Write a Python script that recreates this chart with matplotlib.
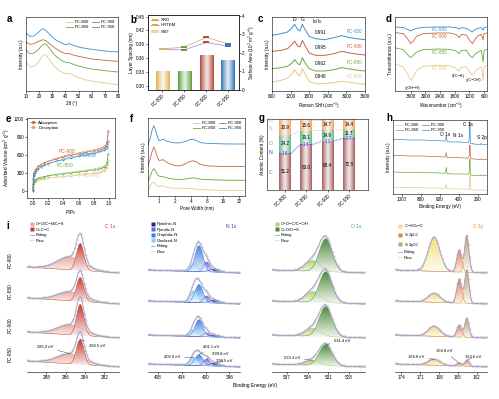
import numpy as np
import matplotlib
matplotlib.use("Agg")
import matplotlib.pyplot as plt
from matplotlib.colors import to_rgb
from matplotlib.lines import Line2D
from matplotlib.patches import Patch

W, H = 499, 399

SAMPLES = ["PC-800", "PC-850", "PC-900", "PC-950"]
COLS = ["#e6c88e", "#6aa93c", "#c8643c", "#3c8ecb"]
BAR_COLS = ["#e0b257", "#5d9f3d", "#b4473c", "#3573b6"]

# a - XRD
XRD_X = [10, 13, 16, 19, 21, 23, 25, 28, 32, 36, 40, 43, 46, 50, 55, 60, 70, 80]
XRD_800 = [87, 72, 74, 84, 97, 107, 109, 92, 72, 59, 52, 54, 47, 40, 34, 30, 24, 19]
XRD_850 = [124, 112, 114, 122, 132, 139, 142, 127, 107, 94, 86, 85, 80, 75, 70, 66, 61, 57]
XRD_900 = [147, 140, 142, 148, 151, 154, 151, 142, 129, 119, 112, 112, 108, 104, 100, 96, 92, 89]
XRD_950 = [174, 164, 165, 174, 182, 187, 182, 170, 155, 146, 139, 142, 137, 132, 128, 125, 120, 117]

# b - layer spacing / surface area
B_XRD = [0.380, 0.384, 0.405, 0.3915]
B_HRTEM = [0.379, 0.378, 0.394, 0.386]
B_SBET = [0.99, 1.00, 1.84, 1.61]

# c - Raman
RAMAN_X = [600, 900, 1100, 1250, 1330, 1430, 1500, 1580, 1650, 1800, 2000, 2300, 2600, 2850, 3100, 3400, 3600]
R_800 = [27, 32, 39, 52, 64, 50, 46, 67, 54, 29, 22, 22, 25, 29, 26, 22, 20]
R_850 = [67, 70, 74, 84, 94, 82, 79, 100, 87, 67, 60, 60, 64, 70, 66, 62, 60]
R_900 = [119, 122, 127, 140, 150, 135, 132, 152, 139, 114, 107, 107, 112, 119, 114, 110, 108]
R_950 = [167, 172, 177, 190, 200, 184, 180, 200, 187, 164, 157, 154, 160, 166, 160, 156, 154]
ID_IG = ["0.948", "0.962", "0.995", "0.991"]

# d - FTIR
FTIR_X = [4200, 3900, 3700, 3600, 3490, 3360, 3080, 2540, 2000, 1730, 1620, 1520, 1320, 1190, 1080, 980, 850, 710, 640, 600, 490]
F_800 = [80, 72, 47, 32, 42, 62, 74, 77, 76, 67, 60, 72, 72, 57, 47, 57, 67, 72, 32, 72, 77]
F_850 = [129, 124, 107, 100, 107, 117, 124, 126, 125, 120, 112, 122, 122, 107, 100, 110, 117, 122, 87, 122, 125]
F_900 = [175, 172, 154, 142, 150, 164, 172, 174, 174, 169, 160, 170, 168, 152, 142, 154, 166, 170, 154, 172, 174]
F_950 = [192, 190, 184, 180, 184, 188, 191, 192, 192, 190, 186, 190, 188, 182, 177, 184, 188, 190, 182, 190, 192]

# e - N2 isotherms
E_P_ADS = [0.0, 0.001, 0.003, 0.006, 0.01, 0.02, 0.04, 0.07, 0.1, 0.15, 0.2, 0.3, 0.4, 0.5, 0.6, 0.7, 0.8, 0.85, 0.9, 0.93, 0.95, 0.97, 0.98, 0.99]
E_ADS_800 = [5, 50, 100, 125, 140, 152, 165, 180, 190, 200, 210, 225, 238, 250, 262, 275, 290, 300, 315, 330, 345, 375, 410, 520]
E_ADS_850 = [5, 60, 120, 150, 165, 180, 195, 210, 220, 235, 250, 270, 285, 300, 315, 330, 350, 360, 375, 390, 405, 440, 480, 620]
E_ADS_900 = [10, 120, 220, 270, 300, 330, 370, 410, 435, 465, 490, 530, 565, 595, 620, 645, 670, 685, 705, 720, 740, 780, 820, 1000]
E_ADS_950 = [10, 110, 200, 245, 270, 295, 330, 370, 395, 425, 450, 490, 520, 550, 575, 600, 625, 640, 660, 675, 690, 720, 750, 830]
E_P_DES = [0.99, 0.98, 0.96, 0.94, 0.9, 0.85, 0.8, 0.7, 0.6, 0.5, 0.45, 0.4, 0.3, 0.2, 0.1, 0.05]
E_DES_800 = [520, 430, 380, 358, 330, 315, 303, 287, 272, 258, 250, 242, 228, 212, 192, 172]
E_DES_850 = [620, 500, 440, 415, 392, 375, 362, 342, 325, 310, 300, 292, 275, 255, 225, 205]
E_DES_900 = [1000, 840, 770, 745, 720, 700, 685, 660, 635, 610, 598, 580, 540, 495, 440, 400]
E_DES_950 = [830, 770, 720, 695, 675, 655, 640, 615, 590, 562, 548, 530, 495, 455, 400, 350]

# f - pore size distribution
PORE_X = [0.62, 0.68, 0.74, 0.8, 0.86, 0.93, 1.0, 1.1, 1.2, 1.4, 1.8, 2.2, 2.6, 3.2, 3.8, 4.3, 5.0, 6.0, 8.0, 12, 20, 32, 40]
P_800 = [18, 30, 38, 40, 35, 29, 28, 29, 30, 25, 23, 23, 23, 22, 21, 21, 20, 19, 18, 17, 16, 16, 16]
P_850 = [43, 56, 73, 80, 73, 62, 58, 57, 56, 53, 50, 48, 48, 50, 52, 53, 52, 49, 48, 47, 46, 46, 46]
P_900 = [88, 108, 130, 143, 130, 113, 104, 105, 106, 98, 91, 88, 89, 95, 101, 103, 100, 92, 88, 87, 86, 86, 86]
P_950 = [150, 168, 193, 206, 193, 173, 162, 164, 166, 160, 156, 155, 156, 160, 165, 166, 162, 156, 154, 153, 152, 152, 152]

# g - atomic content (%)
G_C = [51.2, 63.0, 68.4, 72.5]
G_N = [1.6, 1.4, 1.1, 0.7]
G_O = [24.2, 19.1, 14.9, 11.7]
G_S = [20.9, 15.6, 14.7, 14.4]

# h - XPS survey
SURV_X = [1100, 1000, 900, 800, 700, 600, 545, 536, 532, 528, 520, 450, 405, 400, 395, 350, 300, 292, 287, 284, 281, 276, 240, 200, 172, 166, 162, 130, 105]
S_950 = [164, 163, 162, 162, 161, 160, 159, 166, 174, 164, 157, 156, 156, 158, 156, 155, 154, 162, 192, 217, 182, 152, 150, 149, 149, 152, 149, 148, 148]
S_900 = [116, 115, 114, 114, 113, 112, 111, 116, 124, 115, 109, 109, 109, 110, 109, 108, 108, 114, 132, 147, 127, 106, 105, 104, 104, 106, 104, 104, 104]
S_850 = [66, 65, 65, 64, 64, 63, 62, 70, 79, 67, 61, 60, 60, 61, 60, 60, 59, 65, 82, 104, 77, 57, 56, 56, 56, 58, 56, 55, 55]
S_800 = [20, 20, 19, 19, 18, 18, 17, 22, 28, 20, 16, 15, 15, 16, 15, 15, 14, 19, 34, 57, 30, 13, 12, 12, 12, 13, 12, 11, 11]

# i - high resolution XPS, fitted components (centre eV, FWHM eV, height per sample)
I_BASE = [99, 68, 34, 5]
C1S_NAMES = ["C−O/C−N/C−S", "C=C−C"]
C1S_CENTERS = [285.5, 284.5]
C1S_FWHM = [3.2, 0.9]
C1S_HEIGHTS = [[13, 27], [9, 24], [10, 31], [10, 25]]
N1S_NAMES = ["Pyridinic-N", "Pyrrolic-N", "Graphitic-N", "Oxidized-N"]
N1S_CENTERS = [398.5, 399.8, 401.1, 402.0]
N1S_FWHM = [2.0, 1.3, 1.6, 1.5]
N1S_HEIGHTS = [[3, 10, 26, 8], [3, 7, 18, 12], [2, 4, 17, 7], [3, 7, 11, 8]]
O1S_NAMES = ["C−O−C/C−OH", "C=O/O−S"]
O1S_CENTERS = [533.3, 531.4]
O1S_FWHM = [2.6, 2.2]
O1S_HEIGHTS = [[11, 33], [11, 31], [8, 30], [5, 21]]
S2P_NAMES = ["C−SO$_x$−C", "S 2p$_{1/2}$", "S 2p$_{3/2}$"]
S2P_CENTERS = [168.8, 164.8, 163.6]
S2P_FWHM = [2.2, 0.9, 0.8]
S2P_HEIGHTS = [[34, 22, 37], [9, 24, 33], [10, 12, 19], [6, 3, 6]]

plt.rcParams.update({
    "font.family": ["Liberation Sans", "DejaVu Sans"],
    "font.size": 3.3,
    "mathtext.default": "regular",
    "axes.linewidth": 0.4,
    "xtick.major.size": 1.2, "ytick.major.size": 1.2,
    "xtick.major.width": 0.4, "ytick.major.width": 0.4,
    "xtick.major.pad": 1, "ytick.major.pad": 1,
    "axes.labelpad": 1.5,
    "lines.linewidth": 0.5,
    "legend.frameon": False,
    "legend.fontsize": 3.1,
    "legend.handlelength": 1.6,
    "legend.handletextpad": 0.4,
    "legend.labelspacing": 0.25,
    "legend.columnspacing": 0.8,
    "legend.borderaxespad": 0.3,
})

def axes_px(fig, l, t, r, b):
    return fig.add_axes([l / W, 1 - b / H, (r - l) / W, (b - t) / H])

def hgrad(ax, xc, w, y0, y1, color, z=1):
    rgb = np.array(to_rgb(color))
    t = np.abs(np.linspace(-1, 1, 41))
    f = 0.15 + 0.85 * t ** 1.2
    img = (1 - f)[:, None] + f[:, None] * rgb[None, :]
    ax.imshow(img[None, :, :], extent=(xc - w / 2, xc + w / 2, y0, y1),
              aspect="auto", zorder=z, interpolation="bilinear")

def vgrad(ax, x, lo, hi, color, z=1):
    poly = ax.fill_between(x, lo, hi, facecolor="none", edgecolor="none")
    rgb = np.array(to_rgb(color))
    f = np.linspace(0.05, 1, 64)
    img = (1 - f)[:, None] + f[:, None] * rgb[None, :]
    im = ax.imshow(img[:, None, :], extent=(x.min(), x.max(), lo.min(), hi.max()),
                   origin="lower", aspect="auto", zorder=z, interpolation="bilinear")
    im.set_clip_path(poly.get_paths()[0], transform=ax.transData)

def gauss(x, c, fwhm, h):
    return h * np.exp(-4 * np.log(2) * ((x - c) / fwhm) ** 2)

def letter(fig, s, x, y):
    fig.text(x / W, 1 - y / H, s, fontsize=7, fontweight="bold", ha="left", va="center")

fig = plt.figure(figsize=(W / 100, H / 100), dpi=100)

# ---- a
ax = axes_px(fig, 26, 17, 118, 91)
for ys, c, n in zip([XRD_800, XRD_850, XRD_900, XRD_950], COLS, SAMPLES):
    ax.plot(XRD_X, ys, color=c, lw=0.6, label=n)
ax.set_xlim(10, 80)
ax.set_ylim(0, 222)
ax.set_xticks(range(10, 81, 10))
ax.set_yticks([])
ax.set_xlabel("2θ (°)")
ax.set_ylabel("Intensity (a.u.)")
ax.legend(loc="upper right", ncol=2)
letter(fig, "a", 7, 19)

# ---- b
ax = axes_px(fig, 148, 15, 239, 90)
tw = ax.twinx()
xs = np.arange(4)
for i in range(4):
    hgrad(tw, xs[i], 0.6, 0, B_SBET[i], BAR_COLS[i])
tw.set_xlim(-0.65, 3.5)
tw.set_ylim(0, 4.05)
tw.set_yticks(range(0, 5))
tw.set_ylabel("Surface Area (10$^3$ m$^2$ g$^{-1}$)")
ax.set_zorder(tw.get_zorder() + 1)
ax.patch.set_visible(False)
ax.plot(xs, B_XRD, color="#d8b57e", lw=0.6, zorder=3)
ax.plot(xs, B_HRTEM, color="#bd8ad8", lw=0.6, zorder=3)
ax.scatter(xs, B_XRD, marker="_", c=BAR_COLS, s=22, linewidths=1.4, zorder=4)
ax.scatter(xs, B_HRTEM, marker="_", c=BAR_COLS, s=22, linewidths=1.4, zorder=4)
ax.set_xlim(-0.65, 3.5)
ax.set_ylim(0.291, 0.4536)
ax.set_yticks([0.30, 0.33, 0.36, 0.39, 0.42, 0.45])
ax.set_yticklabels(["0.30", "0.33", "0.36", "0.39", "0.42", "0.45"])
ax.set_xticks(xs)
ax.set_xticklabels(SAMPLES, rotation=45, ha="right", rotation_mode="anchor")
ax.set_ylabel("Layer Spacing (nm)")
hb = [Line2D([], [], color="#d8b57e", lw=0.6, marker="_", mec="#d9a84c", ms=4, mew=1.4),
      Line2D([], [], color="#bd8ad8", lw=0.6, marker="_", mec="#d9a84c", ms=4, mew=1.4),
      Patch(facecolor="#f0d49a", edgecolor="none")]
ax.legend(hb, ["XRD", "HRTEM", "S$_{BET}$"], loc="upper left", handlelength=1.8)
letter(fig, "b", 130, 20)

# ---- c
ax = axes_px(fig, 272, 17, 365, 91)
for ys, c in zip([R_800, R_850, R_900, R_950], COLS):
    ax.plot(RAMAN_X, ys, color=c, lw=0.7)
ax.set_xlim(600, 3600)
ax.set_ylim(0, 222)
ax.set_xticks(range(600, 3601, 600))
ax.set_yticks([])
ax.set_xlabel("Raman Shift (cm$^{-1}$)")
ax.set_ylabel("Intensity (a.u.)")
ax.text(1330, 207, "D", ha="center", va="bottom", fontsize=3.6)
ax.text(1580, 207, "G", ha="center", va="bottom", fontsize=3.6)
ax.text(1880, 196, "I$_D$/I$_G$", ha="left", va="bottom", fontsize=3.4)
for j, (ys, c, n) in enumerate(zip([R_800, R_850, R_900, R_950], COLS, SAMPLES)):
    ax.text(1980, ys[-1] + 15, ID_IG[j], ha="left", va="bottom")
    ax.text(3520, ys[-1] + 17, n, ha="right", va="bottom", color=c)
letter(fig, "c", 258, 19)

# ---- d
ax = axes_px(fig, 395, 17, 487, 91)
for ys, c in zip([F_800, F_850, F_900, F_950], COLS):
    ax.plot(FTIR_X, ys, color=c, lw=0.6)
ax.set_xlim(4240, 480)
ax.set_ylim(0, 222)
ax.set_xticks([3600, 3000, 2400, 1800, 1200, 600])
ax.set_yticks([])
ax.set_xlabel("Wavenumber (cm$^{-1}$)")
ax.set_ylabel("Transmittance (a.u.)")
for ys, c, n, yt in zip([F_800, F_850, F_900, F_950], COLS, SAMPLES, [67, 115, 162, 184]):
    ax.text(2430, yt, n, ha="center", va="center", color=c)
ax.text(3530, 10, "γ(OH−H)", ha="center", va="center", fontsize=2.8)
ax.text(1660, 44, "δ(C−H)", ha="center", va="center", fontsize=2.8)
ax.text(1000, 32, "γ(C−OH)", ha="center", va="center", fontsize=2.8)
letter(fig, "d", 386, 19)

# ---- e
ax = axes_px(fig, 27, 118, 115, 198)
for ya, yd, c in zip([E_ADS_800, E_ADS_850, E_ADS_900, E_ADS_950],
                     [E_DES_800, E_DES_850, E_DES_900, E_DES_950], COLS):
    ax.plot(E_P_ADS, ya, color=c, lw=0.5, marker="o", ms=1.0, mew=0.2)
    ax.plot(E_P_DES, yd, color=c, lw=0.5, ls="--", alpha=0.8, marker="o", ms=1.0,
            mfc="white", mew=0.25)
ax.set_xlim(-0.08, 1.08)
ax.set_ylim(-120, 1215)
ax.set_xticks([0.0, 0.2, 0.4, 0.6, 0.8, 1.0])
ax.set_xticklabels(["0.0", "0.2", "0.4", "0.6", "0.8", "1.0"])
ax.set_yticks([0, 300, 600, 900, 1200])
ax.set_xlabel("P/P$_0$")
ax.set_ylabel("Adsorbed Volume (cm$^3$ g$^{-1}$)")
for n, c, (tx, ty) in zip(SAMPLES, COLS, [(0.76, 255), (0.42, 430), (0.44, 660), (0.72, 590)]):
    ax.text(tx, ty, n, color=c, ha="center", va="center", fontsize=3.5)
he = [Line2D([], [], color="#c8643c", lw=0.5, marker="o", ms=1.3),
      Line2D([], [], color="#e3a07c", lw=0.5, ls="--", marker="o", ms=1.3, mfc="white")]
ax.legend(he, ["Adsorption", "Desorption"], loc="upper left", borderaxespad=0.2)
letter(fig, "e", 6, 119)

# ---- f
ax = axes_px(fig, 148, 118, 245, 196)
for ys, c, n in zip([P_800, P_850, P_900, P_950], COLS, SAMPLES):
    ax.plot(PORE_X, ys, color=c, lw=0.6, label=n)
ax.set_xscale("log", base=2)
ax.set_xlim(0.62, 41)
ax.set_ylim(0, 228)
ax.set_xticks([1, 2, 4, 8, 16, 32])
ax.set_xticklabels(["1", "2", "4", "8", "16", "32"])
ax.minorticks_off()
ax.set_yticks([])
ax.set_xlabel("Pore Width (nm)")
ax.set_ylabel("Intensity (a.u.)")
ax.legend(loc="upper right", ncol=2)
letter(fig, "f", 130, 119)

# ---- g
ax = axes_px(fig, 267, 119, 368, 190)
g_cols = {"C": "#a45e5e", "N": "#3a3ad0", "O": "#63b989", "S": "#f2a463", "H": "#d9c9c2"}
g_h = [100 - a - b - c - d for a, b, c, d in zip(G_C, G_N, G_O, G_S)]
bw = 0.55
tops = []
for i in range(4):
    segs = [("C", G_C[i]), ("N", G_N[i]), ("O", G_O[i]), ("S", G_S[i]), ("H", g_h[i])]
    bottom = 0
    t_i = []
    for k, v in segs:
        hgrad(ax, i, bw, bottom, bottom + v, g_cols[k])
        if k in ("C", "O", "S"):
            ax.text(i, bottom + v / 2, f"{v:.1f}", ha="center", va="center", fontsize=3.3)
        elif k == "N":
            ax.text(i, bottom + v / 2, f"{v:.1f}", ha="center", va="center", fontsize=3.3,
                    color="#3a3ad0")
        bottom += v
        t_i.append(bottom)
    tops.append(t_i)
for i in range(3):
    for j, lc in zip(range(4), ["#3a3ad0", "#3a3ad0", "#888888", "#888888"]):
        ax.plot([i + bw / 2, i + 1 - bw / 2], [tops[i][j], tops[i + 1][j]], ls=":",
                color=lc, lw=0.4)
for k, yv in zip(["C", "N", "O", "S", "H"], [25, 52.5, 65, 87, 98.5]):
    ax.text(-0.68, yv, k, color=g_cols[k] if k != "H" else "#999999", ha="center",
            va="center", fontsize=3.8)
ax.set_xlim(-0.85, 3.9)
ax.set_ylim(0, 100)
ax.set_yticks([])
ax.set_xticks(range(4))
ax.set_xticklabels(SAMPLES, rotation=45, ha="right", rotation_mode="anchor")
ax.set_ylabel("Atomic Content (%)")
letter(fig, "g", 259, 118)

# ---- h
ax = axes_px(fig, 393, 120, 487, 194)
for ys, c, n in zip([S_800, S_850, S_900, S_950], COLS, SAMPLES):
    ax.plot(SURV_X, ys, color=c, lw=0.5, label=n)
ax.set_xlim(1090, 105)
ax.set_ylim(0, 222)
ax.set_xticks([1000, 800, 600, 400, 200])
ax.set_yticks([])
ax.set_xlabel("Binding Energy (eV)")
ax.set_ylabel("Intensity (a.u.)")
ax.legend(loc="upper left", ncol=2)
ax.text(300, 210, "C 1s", ha="center", va="center", fontsize=3.4)
ax.text(545, 178, "O 1s", ha="center", va="center", fontsize=3.4)
ax.text(410, 176, "N 1s", ha="center", va="center", fontsize=3.4)
ax.text(160, 170, "S 2p", ha="center", va="center", fontsize=3.4)
letter(fig, "h", 386, 118)

# ---- i
FIT_C = "#a39dcf"
RAW_C = "#c4c4c4"
panels = [
    dict(box=(27, 222, 119, 372), title="C 1s", tcol="#d0463b", xlim=(290, 280.5),
         ticks=[288, 286, 284, 282], names=C1S_NAMES, cen=C1S_CENTERS, fw=C1S_FWHM,
         hts=C1S_HEIGHTS, cols=["#eea99c", "#c43d32"], tilt=6,
         notes=[("285.2 eV", 0, (288.1, 25)), ("284.5 eV", 1, (282.8, 26))]),
    dict(box=(148, 222, 240, 372), title="N 1s", tcol="#3b3bbf", xlim=(409.7, 394.2),
         ticks=[408, 404, 400, 396], names=N1S_NAMES, cen=N1S_CENTERS, fw=N1S_FWHM,
         hts=N1S_HEIGHTS, cols=["#1f2a80", "#6f62d8", "#3f82e2", "#8fcdf5"], tilt=3,
         notes=[("402.0 eV", 3, (405.6, 15)), ("401.1 eV", 2, (399.0, 25)),
                ("399.8 eV", 1, (397.5, 18)), ("398.5 eV", 0, (396.9, 11))]),
    dict(box=(272, 222, 365, 372), title="O 1s", tcol="#4caf50", xlim=(539.2, 525.7),
         ticks=[537, 534, 531, 528], names=O1S_NAMES, cen=O1S_CENTERS, fw=O1S_FWHM,
         hts=O1S_HEIGHTS, cols=["#b4d26a", "#4f8c3a"], tilt=3,
         notes=[("533.3 eV", 0, (536.3, 14)), ("531.4 eV", 1, (529.0, 31))]),
    dict(box=(395, 222, 487, 372), title="S 2p", tcol="#f0a040", xlim=(175, 160.4),
         ticks=[174, 171, 168, 165, 162], names=S2P_NAMES, cen=S2P_CENTERS, fw=S2P_FWHM,
         hts=S2P_HEIGHTS, cols=["#f2e07a", "#e8824a", "#c9a26a"], tilt=3,
         notes=[("168.8 eV", 0, (171.6, 15)), ("164.8 eV", 1, (167.2, 21)),
                ("163.6 eV", 2, (162.6, 15))]),
]
for pi, p in enumerate(panels):
    ax = axes_px(fig, *p["box"])
    x0, x1 = p["xlim"]
    x = np.linspace(x1, x0, 300)
    for s in range(4):
        bg = I_BASE[s] + p["tilt"] * (x - x1) / (x0 - x1)
        comps = [gauss(x, c, w, h) for c, w, h in zip(p["cen"], p["fw"], p["hts"][s])]
        for k, (cp, col) in enumerate(zip(comps, p["cols"])):
            vgrad(ax, x, bg, bg + cp, col, z=1 + k * 0.01)
            ax.plot(x, bg + cp, color=col, lw=0.35, zorder=2)
        env = bg + np.sum(comps, axis=0)
        ax.plot(x, env, color=FIT_C, lw=0.6, zorder=3)
        ax.plot(x[::4], env[::4] + 0.6, ls="none", marker=".", ms=0.8, color=RAW_C, zorder=2.5)
        if pi == 0:
            ax.text(-0.18, I_BASE[s] + 13, SAMPLES[s], transform=ax.get_yaxis_transform(),
                    rotation=90, ha="center", va="center", fontsize=3.3)
    # peak labels on the bottom spectrum
    for txt, k, (tx, ty) in p["notes"]:
        c = p["cen"][k]
        yb = I_BASE[3] + p["tilt"] * (c - x1) / (x0 - x1)
        ytop = yb + gauss(c, c, 1, p["hts"][3][k])
        ax.annotate(txt, xy=(c, ytop), xytext=(tx, ty), ha="center", va="center",
                    fontsize=3.0, arrowprops=dict(arrowstyle="-", lw=0.3, color="#333333",
                                                  shrinkA=1, shrinkB=0))
    ax.set_xlim(x0, x1)
    ax.set_ylim(0, 150)
    ax.set_xticks(p["ticks"])
    ax.set_yticks([])
    for sp in ("top", "left", "right"):
        ax.spines[sp].set_visible(False)
    ax.text(0.96, 0.985, p["title"], transform=ax.transAxes, ha="right", va="top",
            color=p["tcol"], fontsize=3.6)
    hi = [Line2D([], [], ls="none", marker="s", ms=2.2, mec="none", color=c) for c in p["cols"]]
    hi += [Line2D([], [], color=FIT_C, lw=0.6),
           Line2D([], [], ls=":", color="#999999", lw=0.6)]
    ax.legend(hi, p["names"] + ["Fitting", "Raw"], loc="upper left",
              bbox_to_anchor=(0.0, 1.02), labelspacing=0.35, handlelength=1.0)

fig.text(255 / W, 1 - 386 / H, "Binding Energy (eV)", ha="center", va="center", fontsize=3.5)
letter(fig, "i", 6, 226)

fig.savefig("out.png", dpi=100)
